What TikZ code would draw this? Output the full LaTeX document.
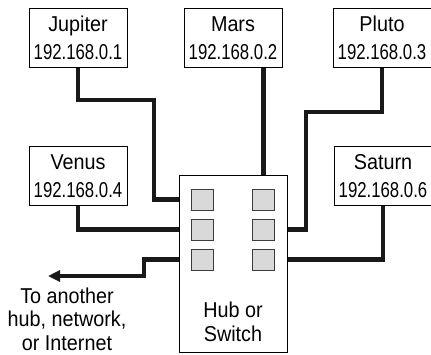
\documentclass[tikz,border=0pt]{standalone}
\usepackage{fontspec}
\setmainfont{Liberation Sans}[FakeStretch=0.92]
\newfontfamily\ipfont{Liberation Sans}[FakeStretch=0.78]
\usetikzlibrary{arrows.meta, positioning}
\definecolor{portgray}{RGB}{217, 217, 217}
\definecolor{portedge}{RGB}{60, 60, 60}
\newcommand{\hostlabel}[2]{#1\\{\ipfont #2}}
\tikzset{
  hostbox/.style = {
    rectangle,
    draw=black,
    fill=white,
    line width=0.8pt,
    align=center,
    inner sep=0pt,
    font=\fontsize{21.5}{28}\selectfont,
    minimum width=98pt,
    minimum height=59pt
  },
  hubbox/.style = {
    rectangle,
    draw=black,
    fill=white,
    line width=1pt,
    minimum width=108pt,
    minimum height=177pt
  },
  portbox/.style = {
    rectangle,
    draw=portedge,
    fill=portgray,
    line width=0.9pt,
    minimum width=22pt,
    minimum height=21pt
  },
  wire/.style = {
    line width=4.5pt,
    draw=black!90
  },
  notetext/.style = {
    align=center,
    font=\fontsize{21.5}{23.5}\selectfont
  }
}

\begin{document}
\begin{tikzpicture}[x=1pt, y=-1pt]
  \useasboundingbox (0,0) rectangle (431,354);

  % Hub or switch with its ports
  \node[hubbox] at (233,263.5) (hub) {};
  \node[portbox] at (202,199.5) (p1) {};
  \node[portbox] at (202,229.5) (p2) {};
  \node[portbox] at (202,259.5) (p3) {};
  \node[portbox] at (263.5,199.5) (p4) {};
  \node[portbox] at (263.5,229.5) (p5) {};
  \node[portbox] at (263.5,259.5) (p6) {};
  \node[notetext] at (233,322) (hubtext) {Hub or\\Switch};

  % Hosts
  \node[hostbox] at (78,38) (jupiter) {\hostlabel{Jupiter}{192.168.0.1}};
  \node[hostbox] at (233,38) (mars) {\hostlabel{Mars}{192.168.0.2}};
  \node[hostbox] at (382,38) (pluto) {\hostlabel{Pluto}{192.168.0.3}};
  \node[hostbox] at (78,176) (venus) {\hostlabel{Venus}{192.168.0.4}};
  \node[hostbox] at (383,176) (saturn) {\hostlabel{Saturn}{192.168.0.6}};

  % Cables
  \draw[wire] (jupiter.south) |- (154,100) |- (hub.west |- p1);
  \draw[wire] (venus.south) |- (hub.west |- p2);
  \draw[wire] (p4 |- mars.south) -- (p4 |- hub.north);
  \draw[wire] (pluto.south) |- (306,112) |- (hub.east |- p5);
  \draw[wire] (saturn.south) |- (hub.east |- p6);

  % Uplink
  \coordinate (uplink) at (48,276);
  \draw[wire, -{Triangle[length=12pt, width=11pt]}] (hub.west |- p3) -| (144,276) -- (uplink);
  \node[notetext] at (67,319) (uplinktext) {To another\\hub, network,\\or Internet};
\end{tikzpicture}
\end{document}
